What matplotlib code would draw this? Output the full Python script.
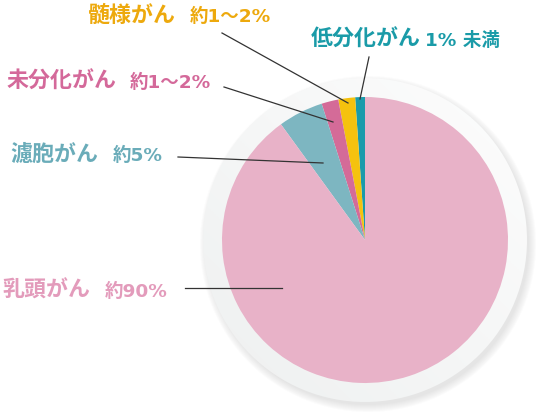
import numpy as np
import matplotlib.pyplot as plt
from matplotlib.patches import Circle
from matplotlib.colors import LinearSegmentedColormap

plt.rcParams['font.family'] = ['Noto Sans CJK JP', 'DejaVu Sans']

# 甲状腺がんの種類 (反時計回り、上から)
names = ["低分化がん", "髄様がん", "未分化がん", "濾胞がん", "乳頭がん"]
rates = ["1% 未満", "約1～2%", "約1～2%", "約5%", "約90%"]
values = [1.1, 1.9, 1.9, 5.1, 90.0]
wedge_colors = ["#1a9bab", "#f5c20e", "#d46b98", "#7db6c1", "#e8b2c8"]
text_colors = ["#1a9ba8", "#eda90d", "#d4699a", "#6aacb9", "#e39bbb"]

W, H = 542, 416
fig = plt.figure(figsize=(5.42, 4.16), dpi=100)
ax = fig.add_axes([0, 0, 1, 1])

cx, cy = 365, H - 240
r_pie, r_ring = 143, 162

# 影
for k in range(8):
    ax.add_patch(Circle((cx + 3, cy - 4), r_ring + 6 - k, color="#7a7a7a",
                        alpha=0.025, lw=0, zorder=1))

# グラデーションの外枠
g = np.linspace(0, 1, 200)
grad = np.add.outer(-g, g) / 2 + 0.5
ring = Circle((cx, cy), r_ring, facecolor="none", lw=0, zorder=2)
ax.add_patch(ring)
cmap = LinearSegmentedColormap.from_list("ring", ["#eef0f0", "#fdfdfd"])
im = ax.imshow(grad, extent=[cx - r_ring, cx + r_ring, cy - r_ring, cy + r_ring],
               cmap=cmap, origin="upper", zorder=2)
im.set_clip_path(ring)

wedges, _ = ax.pie(values, colors=wedge_colors, startangle=90, counterclock=True,
                   center=(cx, cy), radius=r_pie, wedgeprops=dict(linewidth=0))
for w in wedges:
    w.set_zorder(3)

# ラベル: (名前x, 割合x, ベースラインy, 線の始点, 線の終点)
label_pos = [
    (311, 425, 46, (369, 57), (360, 99)),
    (88, 190, 22, (222, 33), (348, 103)),
    (7, 130, 88, (224, 87), (333, 122)),
    (10, 113, 161, (178, 157), (323, 163)),
    (2, 105, 297, (185, 288), (282, 288)),
]
for name, rate, col, (xn, xr, yb, p0, p1) in zip(names, rates, text_colors, label_pos):
    ax.text(xn, H - yb, name, color=col, fontsize=15.8, fontweight="bold",
            ha="left", va="baseline")
    ax.text(xr, H - yb, rate, color=col, fontsize=13.3, fontweight="bold",
            family=["DejaVu Sans", "Noto Sans CJK JP"], ha="left", va="baseline")
    ax.plot([p0[0], p1[0]], [H - p0[1], H - p1[1]], color="#333333", lw=0.9, zorder=5)

ax.set_xlim(0, W)
ax.set_ylim(0, H)
ax.set_aspect("equal")
ax.axis("off")

fig.savefig("out.png", dpi=100)
